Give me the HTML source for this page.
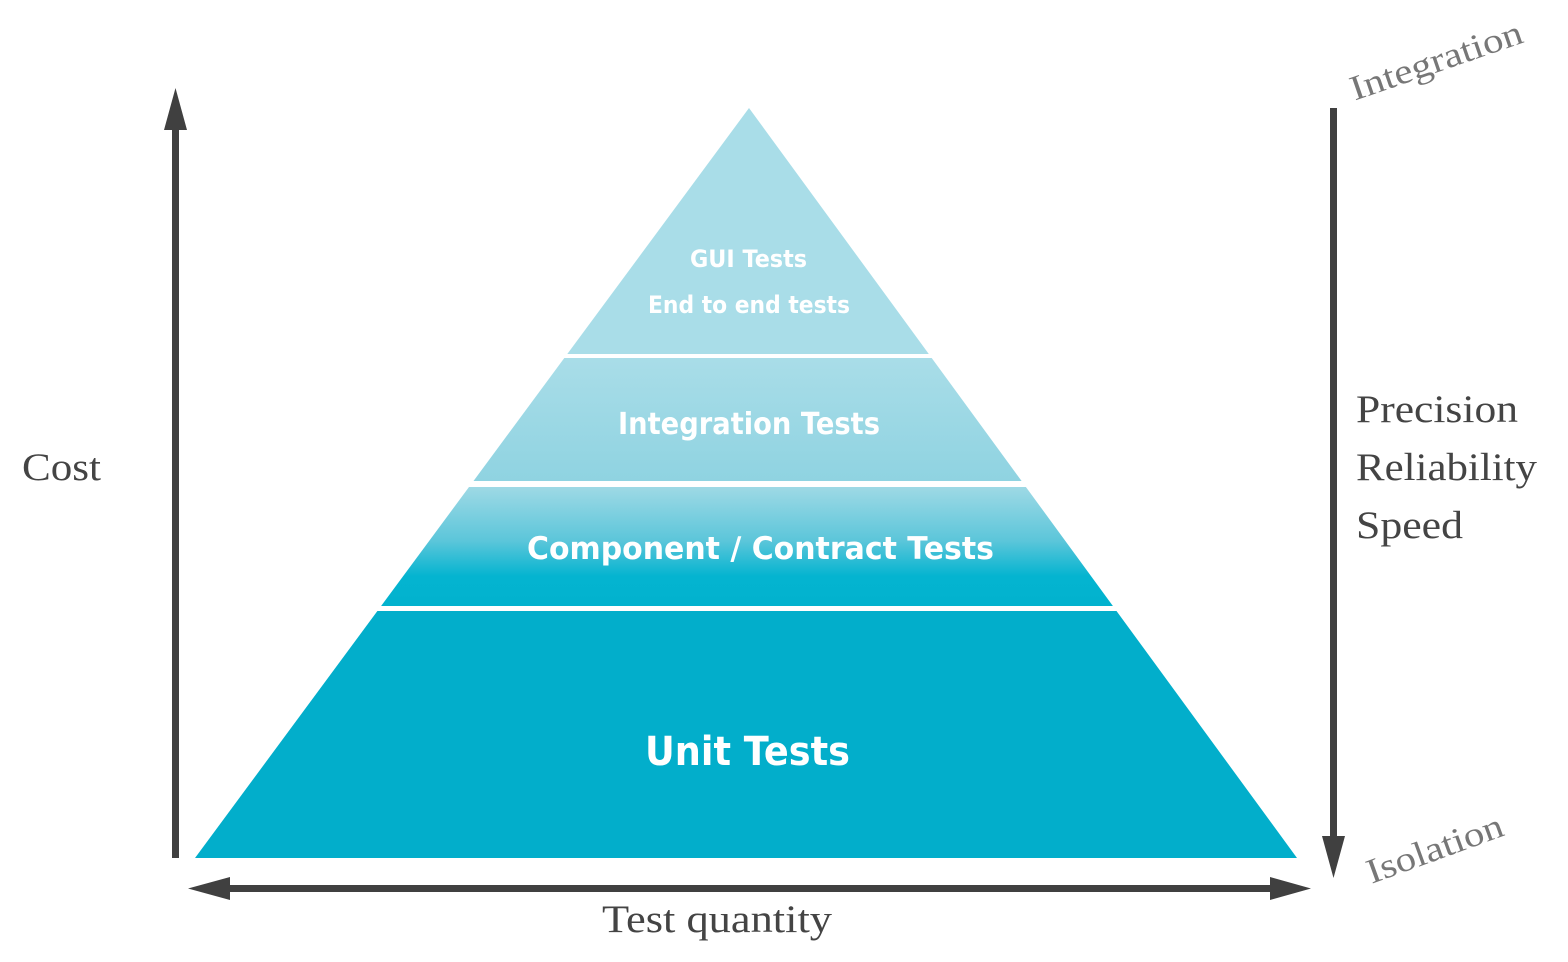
<!DOCTYPE html>
<html><head><meta charset="utf-8"><style>
html,body{margin:0;padding:0;background:#fff;}
svg{display:block;}
</style></head><body>
<svg width="1568" height="962" viewBox="0 0 1568 962" xmlns="http://www.w3.org/2000/svg">
<defs>
<linearGradient id="g2" x1="0" y1="0" x2="0" y2="1">
<stop offset="0" stop-color="#a9dde8"/><stop offset="1" stop-color="#8fd3e1"/></linearGradient>
<linearGradient id="g3" x1="0" y1="0" x2="0" y2="1">
<stop offset="0" stop-color="#9ed9e5"/><stop offset="0.45" stop-color="#5cc6da"/><stop offset="0.75" stop-color="#04b4d0"/><stop offset="1" stop-color="#02b2ce"/></linearGradient>
</defs>
<polygon points="749,108 928.8,354 567.3,354" fill="#a9dde8"/>
<polygon points="564.3,358 931.7,358 1021.6,481 473.5,481" fill="url(#g2)"/>
<polygon points="469,487 1025.9,487 1112.9,606 381.1,606" fill="url(#g3)"/>
<polygon points="377.4,611 1116.5,611 1297,858 195,858" fill="#02aecb"/>
<g font-family="'DejaVu Sans','Liberation Sans',sans-serif" font-weight="bold" fill="#fff" lengthAdjust="spacingAndGlyphs">
<text x="690" y="267" font-size="24" textLength="117" lengthAdjust="spacingAndGlyphs">GUI Tests</text>
<text x="648" y="313" font-size="24" textLength="202" lengthAdjust="spacingAndGlyphs">End to end tests</text>
<text x="618" y="434" font-size="30" textLength="262" lengthAdjust="spacingAndGlyphs">Integration Tests</text>
<text x="527" y="559" font-size="31" textLength="467" lengthAdjust="spacingAndGlyphs">Component / Contract Tests</text>
<text x="645" y="765" font-size="40" textLength="205" lengthAdjust="spacingAndGlyphs">Unit Tests</text>
</g>
<g fill="#404040" stroke="none">
<rect x="172" y="125" width="7" height="733"/>
<polygon points="175.5,88 164,130 187,130"/>
<rect x="1330" y="108" width="7" height="735"/>
<polygon points="1333.5,878 1322,836 1345,836"/>
<rect x="220" y="885" width="1060" height="7"/>
<polygon points="188,888.5 230,877 230,900"/>
<polygon points="1311,888.5 1270,877 1270,900"/>
</g>
<g font-family="'Liberation Serif',serif" fill="#444" font-size="39">
<text x="22" y="480" textLength="79" lengthAdjust="spacingAndGlyphs">Cost</text>
<text x="1356" y="422" textLength="162" lengthAdjust="spacingAndGlyphs">Precision</text>
<text x="1356" y="480" textLength="181" lengthAdjust="spacingAndGlyphs">Reliability</text>
<text x="1356" y="538" textLength="107" lengthAdjust="spacingAndGlyphs">Speed</text>
<text x="602" y="932" textLength="230" lengthAdjust="spacingAndGlyphs">Test quantity</text>
</g>
<g font-family="'Liberation Serif',serif" fill="#777" font-size="35">
<text x="1346" y="72" textLength="180" lengthAdjust="spacingAndGlyphs" transform="rotate(-19 1436 60)">Integration</text>
<text x="1363" y="860" textLength="143" lengthAdjust="spacingAndGlyphs" transform="rotate(-20 1435 848)">Isolation</text>
</g>
</svg>
</body></html>
